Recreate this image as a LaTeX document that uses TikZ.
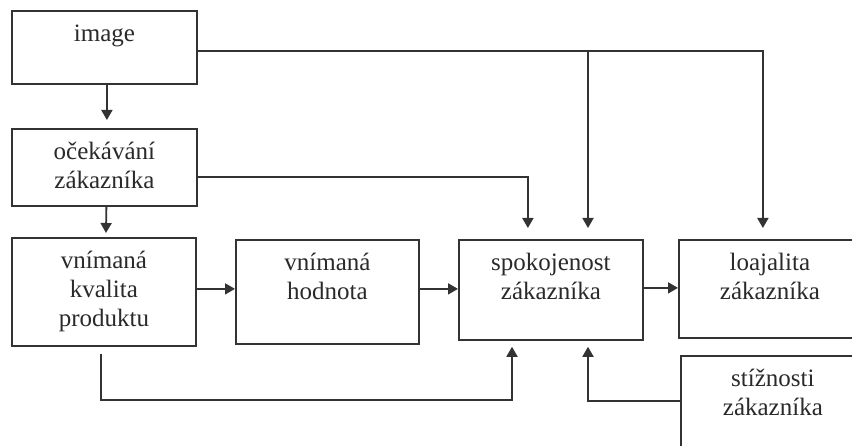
\documentclass[tikz,border=0pt]{standalone}
\usepackage{fontspec}
\setmainfont{Liberation Serif}
\usetikzlibrary{arrows.meta,calc}
\definecolor{linec}{HTML}{333333}
\definecolor{txtc}{HTML}{2A2A2A}
\newcommand{\bt}[3]{\begin{minipage}[t][#2pt][t]{#1pt}\centering\vspace*{10.5pt}\strut #3\end{minipage}}
\tikzset{
  box/.style={draw=linec, line width=1.8pt, inner sep=0pt, anchor=north west,
    font=\fontsize{25}{29}\selectfont, text=txtc},
  arr/.style={draw=linec, line width=1.8pt, -{Triangle[length=10pt,width=11pt]}},
}
\begin{document}
\begin{tikzpicture}[x=1pt,y=-1pt]
\clip (0,0) rectangle (852,446);
\fill[white] (0,0) rectangle (852,446);
\node[box] (img)  at (11,10)   {\bt{185}{73}{image}};
\node[box] (oce)  at (11,128)  {\bt{185}{77}{očekávání\\zákazníka}};
\node[box] (kval) at (11,237)  {\bt{184}{108}{vnímaná\\kvalita\\produktu}};
\node[box] (hodn) at (235,239) {\bt{183}{104}{vnímaná\\hodnota}};
\node[box] (spok) at (458,239) {\bt{184}{100}{spokojenost\\zákazníka}};
\node[box] (loaj) at (678,239) {\bt{182}{98}{loajalita\\zákazníka}};
\node[box] (stiz) at (680,355) {\bt{184}{105}{stížnosti\\zákazníka}};
\coordinate (br) at (588,50);
\coordinate (c1) at (512,400);
\coordinate (c2) at (588,401);
% arrows
\draw[arr, shorten >=8pt] ([xshift=2.5pt]img.south) -- ([xshift=2.5pt]oce.north);
\draw[arr, shorten >=4pt] ([xshift=2pt]oce.south) -- ([xshift=2pt]kval.north);
\draw[arr, shorten >=11pt] ([yshift=-3.5pt]img.east) -| ([xshift=-7pt]loaj.north);
\draw[arr, shorten >=11pt] (br) -- (br |- spok.north);
\draw[arr, shorten >=11pt] ([yshift=-9.5pt]oce.east) -| ([xshift=-23pt]spok.north);
\draw[arr] ([yshift=3pt]kval.east) -- ([yshift=3pt]kval.east -| hodn.west);
\draw[arr] ([yshift=3pt]hodn.east) -- ([yshift=3pt]hodn.east -| spok.west);
\draw[arr] ([yshift=2pt]spok.east) -- ([yshift=2pt]spok.east -| loaj.west);
\draw[arr, shorten <=7pt, shorten >=6pt] ([xshift=-3pt]kval.south) |- (c1) -- (c1 |- spok.south);
\draw[arr, shorten >=6pt] (stiz.west |- c2) -- (c2) -- (c2 |- spok.south);
\end{tikzpicture}
\end{document}
